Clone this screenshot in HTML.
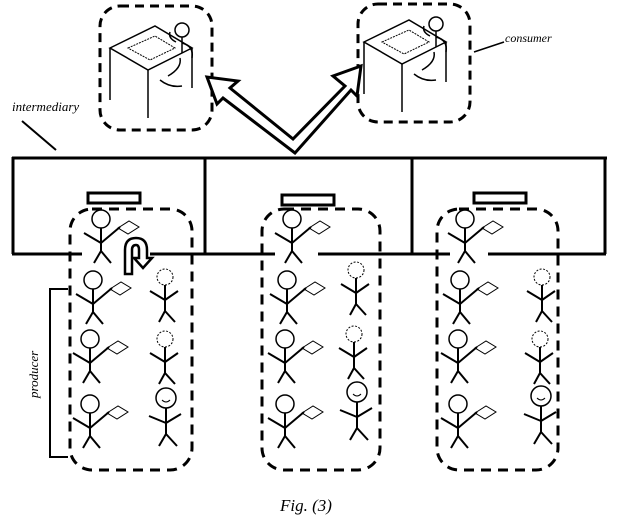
<!DOCTYPE html>
<html><head><meta charset="utf-8"><style>
html,body{margin:0;padding:0;background:#fff;}
svg{display:block;}
</style></head><body>
<svg width="621" height="529" viewBox="0 0 621 529" xmlns="http://www.w3.org/2000/svg">
<defs>
<g id="prod" fill="none" stroke="#000" stroke-width="2">
  <circle cx="0" cy="0" r="9" stroke-width="1.5"/>
  <line x1="0" y1="9" x2="0" y2="32"/>
  <line x1="-17" y1="14" x2="0" y2="24"/>
  <line x1="0" y1="24" x2="19" y2="8"/>
  <line x1="0" y1="32" x2="-7" y2="44"/>
  <line x1="0" y1="32" x2="10" y2="44"/>
  <polygon points="17,9 28,2 38,8 27,15" stroke-width="1"/>
</g>
<g id="smile" fill="none" stroke="#000" stroke-width="2">
  <circle cx="0" cy="0" r="8" stroke-width="1" stroke-dasharray="2,1.5"/>
  <line x1="0" y1="8" x2="0" y2="34"/>
  <line x1="-15" y1="14" x2="0" y2="23"/>
  <line x1="0" y1="23" x2="13" y2="14"/>
  <line x1="0" y1="34" x2="-6" y2="45"/>
  <line x1="0" y1="34" x2="10" y2="45"/>
</g>
<g id="smileB" fill="none" stroke="#000" stroke-width="2">
  <circle cx="0" cy="0" r="10" stroke-width="1.5"/>
  <path d="M-4,2 Q0,6 4,2" stroke-width="1"/>
  <line x1="0" y1="10" x2="0" y2="36"/>
  <line x1="-17" y1="18" x2="0" y2="25"/>
  <line x1="0" y1="25" x2="15" y2="16"/>
  <line x1="0" y1="36" x2="-7" y2="48"/>
  <line x1="0" y1="36" x2="11" y2="48"/>
</g>
<g id="desk" fill="none" stroke="#000" stroke-width="1.5">
  <polygon points="0,30 45,8 82,30 38,52"/>
  <line x1="0" y1="30" x2="0" y2="82"/>
  <line x1="38" y1="52" x2="38" y2="100"/>
  <line x1="82" y1="30" x2="82" y2="70"/>
  <polygon points="18,30 45,18 65,30 40,42" stroke-width="1" stroke-dasharray="2,1"/>
  <circle cx="72" cy="12" r="7"/>
  <line x1="72" y1="19" x2="72" y2="35"/>
  <path d="M72,25 Q84,28 82,40 M66,24 Q58,20 60,14 M58,58 Q72,50 70,40 M50,62 Q60,70 72,68"/>
</g>
<g id="col">
  <rect x="0" y="0" width="52" height="10" fill="none" stroke="#000" stroke-width="3"/>
</g>
</defs>

<rect x="100" y="6" width="112" height="124" rx="20" fill="none" stroke="#000" stroke-width="3" stroke-dasharray="9,6"/>
<rect x="358" y="4" width="112" height="118" rx="20" fill="none" stroke="#000" stroke-width="3" stroke-dasharray="9,6"/>
<use href="#desk" transform="translate(110,18)"/>
<use href="#desk" transform="translate(364,12)"/>

<polygon points="295,153 223,98 217,104 207,77 238,81 230,88 293,139 345,86 333,76 361,66 357,96 351,90" fill="#fff" stroke="#000" stroke-width="3" stroke-linejoin="miter"/>

<text x="12" y="111" font-family="Liberation Serif, serif" font-style="italic" font-size="13">intermediary</text>
<line x1="22" y1="121" x2="56" y2="150" stroke="#000" stroke-width="2"/>
<text x="505" y="42" font-family="Liberation Serif, serif" font-style="italic" font-size="12">consumer</text>
<line x1="474" y1="52" x2="504" y2="42" stroke="#000" stroke-width="1.5"/>

<g stroke="#000" stroke-width="3" fill="none">
  <line x1="12" y1="158" x2="607" y2="158"/>
  <line x1="13" y1="157" x2="13" y2="254"/>
  <line x1="605" y1="157" x2="605" y2="254"/>
  <line x1="205" y1="157" x2="205" y2="254"/>
  <line x1="412" y1="157" x2="412" y2="254"/>
  <line x1="12" y1="254" x2="82" y2="254"/>
  <line x1="150" y1="254" x2="275" y2="254"/>
  <line x1="318" y1="254" x2="450" y2="254"/>
  <line x1="488" y1="254" x2="606" y2="254"/>
</g>

<rect x="70" y="209" width="122" height="261" rx="22" fill="none" stroke="#000" stroke-width="3" stroke-dasharray="10,7"/>
<rect x="262" y="209" width="118" height="261" rx="22" fill="none" stroke="#000" stroke-width="3" stroke-dasharray="10,7"/>
<rect x="437" y="209" width="121" height="261" rx="22" fill="none" stroke="#000" stroke-width="3" stroke-dasharray="10,7"/>
<use href="#col" transform="translate(88,193)"/>
<use href="#col" transform="translate(282,195)"/>
<use href="#col" transform="translate(474,193)"/>

<use href="#prod" transform="translate(101,219)"/>
<use href="#prod" transform="translate(93,280)"/>
<use href="#prod" transform="translate(90,339)"/>
<use href="#prod" transform="translate(90,404)"/>
<use href="#smile" transform="translate(165,277)"/>
<use href="#smile" transform="translate(165,339)"/>
<use href="#smileB" transform="translate(166,398)"/>
<path d="M125,274 L125,250 Q125,238 136,238 Q147,238 147,250 L147,258 L152,258 L143,268 L134,258 L139,258 L139,250 Q139,245 136,245 Q132,245 132,250 L132,274 Z" fill="#fff" stroke="#000" stroke-width="2.5"/>

<use href="#prod" transform="translate(292,219)"/>
<use href="#prod" transform="translate(287,280)"/>
<use href="#prod" transform="translate(285,339)"/>
<use href="#prod" transform="translate(285,404)"/>
<use href="#smile" transform="translate(356,270)"/>
<use href="#smile" transform="translate(354,334)"/>
<use href="#smileB" transform="translate(357,392)"/>

<use href="#prod" transform="translate(465,219)"/>
<use href="#prod" transform="translate(460,280)"/>
<use href="#prod" transform="translate(458,339)"/>
<use href="#prod" transform="translate(458,404)"/>
<use href="#smile" transform="translate(542,277)"/>
<use href="#smile" transform="translate(540,339)"/>
<use href="#smileB" transform="translate(541,396)"/>

<g stroke="#000" stroke-width="2" fill="none">
  <line x1="50" y1="288" x2="50" y2="458"/>
  <line x1="50" y1="289" x2="68" y2="289"/>
  <line x1="50" y1="457" x2="68" y2="457"/>
</g>
<text transform="translate(38,398) rotate(-90)" font-family="Liberation Serif, serif" font-style="italic" font-size="13">producer</text>

<text x="280" y="511" font-family="Liberation Serif, serif" font-style="italic" font-size="17">Fig. (3)</text>
</svg>
</body></html>
